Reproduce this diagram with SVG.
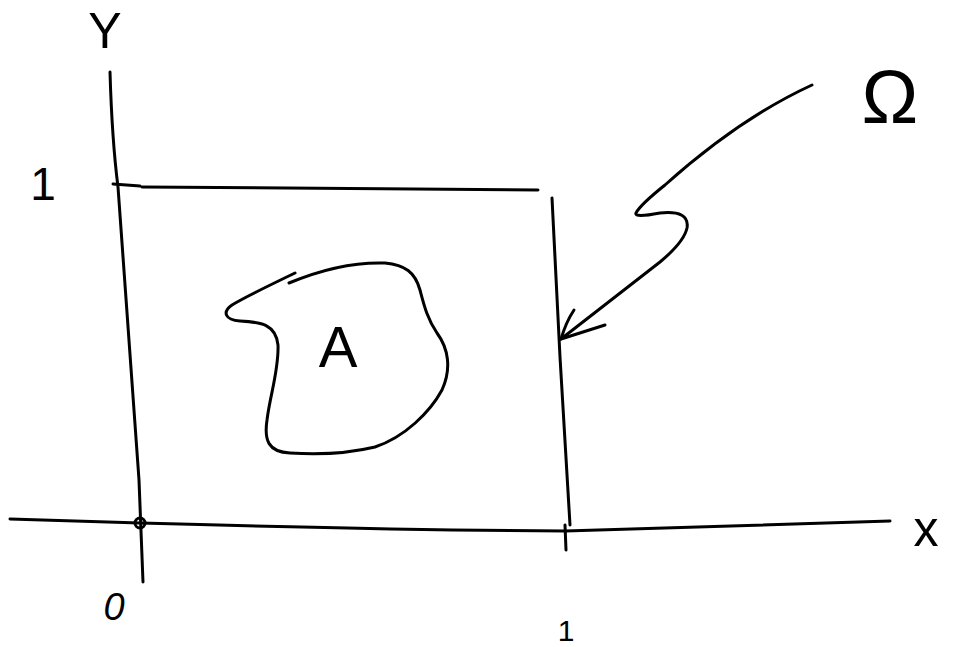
<svg xmlns="http://www.w3.org/2000/svg" width="973" height="647" viewBox="0 0 973 647">
<style>
.ink{fill:none;stroke:#000;stroke-width:3;stroke-linecap:round;stroke-linejoin:round}
.lbl{font-family:"Liberation Sans",Arial,sans-serif;fill:#000;text-anchor:middle}
</style>
<rect width="973" height="647" fill="#fff"/>
<g id="axes">
<path class="ink" d="M110,72 Q112,140 118,187 L139,480 L143,582"/>
<path class="ink" d="M10,519 L140,523 Q400,530 565,531 L890,521"/>
<circle class="ink" cx="140" cy="523" r="5"/>
<path class="ink" d="M565,525 L566,550"/>
</g>
<g id="domain-omega">
<path class="ink" d="M113,184 L140,186 M142,187 L538,190"/>
<path class="ink" d="M552,198 L560,357 L570,525"/>
</g>
<g id="region-A">
<path class="ink" d="M295,273 C270,285 245,297 232,305 C222,312 225,320 240,321 C262,322 276,325 278,345 C279,370 270,395 267,420 C264,440 268,452 290,453 C320,455 350,453 375,447 C405,437 430,412 442,390 C452,368 448,348 437,333 C427,318 424,305 420,290 C415,272 405,265 385,263 C355,262 320,270 289,283"/>
<text class="lbl" x="338" y="367" font-size="58">A</text>
</g>
<g id="connectors">
<path class="ink" d="M812,85 Q740,118 665,185 Q640,205 636,213 Q634,218 660,213 Q690,210 687,228 Q684,242 660,262 L561,339"/>
<path class="ink" d="M605,325 L561,339 M574,310 Q566,322 561,339"/>
</g>
<g id="labels">
<text class="lbl" x="105" y="48" font-size="50">Y</text>
<text class="lbl" x="43" y="200" font-size="46">1</text>
<text class="lbl" x="114" y="620" font-size="38" font-style="italic">0</text>
<text class="lbl" x="566" y="641" font-size="30">1</text>
<text class="lbl" x="926" y="546" font-size="50">x</text>
<text class="lbl" x="890" y="123" font-size="76">Ω</text>
</g>
</svg>
